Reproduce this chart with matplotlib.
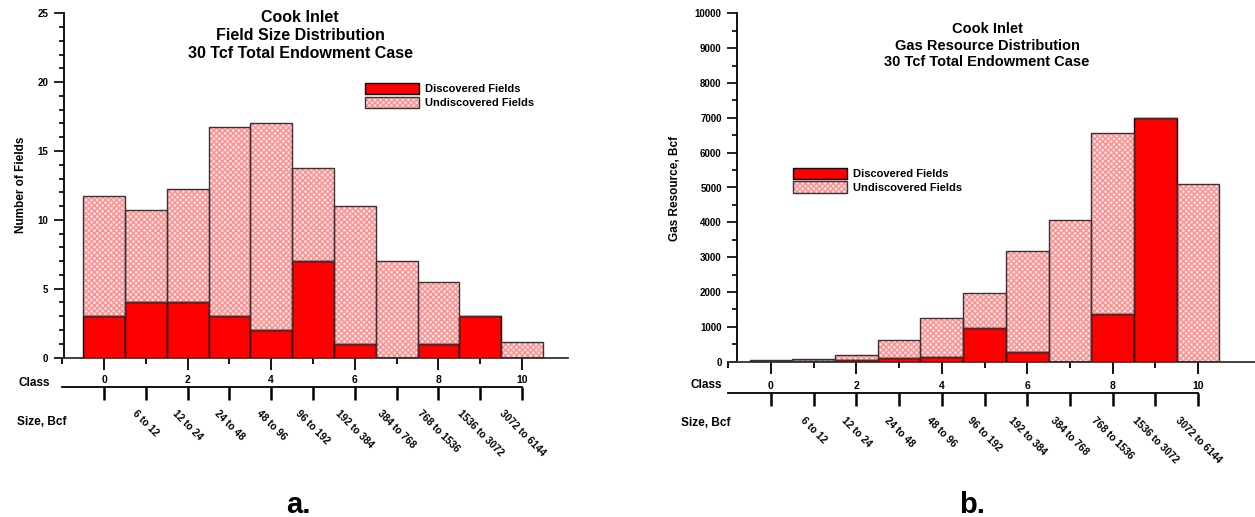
import numpy as np
import matplotlib
matplotlib.use('Agg')
import matplotlib.pyplot as plt
from matplotlib.patches import Patch
from matplotlib.ticker import MultipleLocator, FixedLocator

plt.rcParams['font.family'] = ['Liberation Sans', 'DejaVu Sans']
plt.rcParams['font.weight'] = 'bold'
plt.rcParams['hatch.linewidth'] = 1.0

classes = np.arange(11)
size_labels = ['6 to 12', '12 to 24', '24 to 48', '48 to 96', '96 to 192',
               '192 to 384', '384 to 768', '768 to 1536', '1536 to 3072', '3072 to 6144']

# panel a: number of fields per class
fields_discovered = [3, 4, 4, 3, 2, 7, 1, 0, 1, 3, 0]
fields_undiscovered = [8.75, 6.7, 8.25, 13.75, 15.05, 6.8, 10.0, 7.0, 4.5, 0.0, 1.1]

# panel b: gas resource per class, Bcf
gas_discovered = [25, 20, 50, 96, 144, 976, 287, 0, 1359, 7005, 0]
gas_undiscovered = [20, 45, 132, 516, 1100, 986, 2900, 4057, 5206, 0, 5091]

W, H = 1255, 517
fig = plt.figure(figsize=(W / 100, H / 100), dpi=100)

HATCH_FACE = '#ffe2e2'
HATCH_LINE = '#ff8f8f'


def fbox(x0, y0, x1, y1):
    # pixel box (from top-left) -> figure fraction rect
    return [x0 / W, 1 - y1 / H, (x1 - x0) / W, (y1 - y0) / H]


def ftext(x, y, s, **kw):
    fig.text(x / W, 1 - y / H, s, **kw)


def panel(disc, undisc, ymax, ymajor, yminor, x0, dx, yaxis_px, base_px, top_px,
          right_px, title, title_x, title_ys, title_fs, ylabel, ylabel_xy,
          legend_xy, class_y, class_xy, size_xy, size_off, letter, letter_x):
    ax = fig.add_axes(fbox(x0 - dx, top_px, right_px, base_px))
    ax.set_xlim(-1, (right_px - x0) / dx)
    ax.set_ylim(0, ymax)

    ax.bar(classes, disc, width=1, color='red', edgecolor='black', lw=1, zorder=3)
    ax.bar(classes, undisc, bottom=disc, width=1, color=HATCH_FACE,
           edgecolor=HATCH_LINE, lw=0, hatch='xxxxxx', zorder=2)
    ax.bar(classes, undisc, bottom=disc, width=1, fill=False,
           edgecolor='#333333', lw=1, zorder=3)

    for s in ['top', 'right']:
        ax.spines[s].set_visible(False)
    ax.spines['left'].set_position(('data', (yaxis_px - x0) / dx))
    ax.spines['left'].set_linewidth(1.3)
    ax.spines['bottom'].set_linewidth(1.3)
    ax.spines['bottom'].set_color('#333333')

    ax.yaxis.set_major_locator(MultipleLocator(ymajor))
    ax.yaxis.set_minor_locator(MultipleLocator(yminor))
    ax.tick_params(axis='y', which='major', length=7.5, width=1.2, labelsize=7, pad=3.5)
    ax.tick_params(axis='y', which='minor', length=3.5, width=1.2)

    ax.xaxis.set_major_locator(FixedLocator(range(0, 11, 2)))
    ax.xaxis.set_minor_locator(FixedLocator(range(-1, 11, 2)))
    ax.tick_params(axis='x', which='major', length=8.5, width=1.3, labelbottom=False)
    ax.tick_params(axis='x', which='minor', length=4.3, width=1.3)

    for line, y in zip(title, title_ys):
        ftext(title_x, y, line, ha='center', va='center', fontsize=title_fs)
    ftext(ylabel_xy[0], ylabel_xy[1], ylabel, rotation=90, ha='center', va='center',
          fontsize=8.5)

    h_disc = Patch(facecolor='red', edgecolor='black', lw=1)
    h_und = (Patch(facecolor=HATCH_FACE, edgecolor=HATCH_LINE, lw=0, hatch='xxxxxx'),
             Patch(fill=False, edgecolor='#333333', lw=1))
    ax.legend([h_disc, h_und], ['Discovered Fields', 'Undiscovered Fields'],
              loc='upper left', bbox_to_anchor=(legend_xy[0] / W, 1 - legend_xy[1] / H),
              bbox_transform=fig.transFigure, frameon=False, borderpad=0,
              borderaxespad=0, handlelength=4.9, handleheight=1.15,
              handletextpad=0.5, labelspacing=0.2, prop={'size': 8, 'weight': 'bold'})

    # class / size scale under the chart
    cax = fig.add_axes(fbox(x0 - dx, class_y - 0.02, x0 + 10 * dx, class_y))
    cax.set_xlim(-1, 10)
    cax.patch.set_visible(False)
    for s in ['top', 'right', 'left']:
        cax.spines[s].set_visible(False)
    cax.spines['bottom'].set_linewidth(1.3)
    cax.set_yticks([])
    cax.set_xticks(classes)
    cax.tick_params(axis='x', length=9, width=1.8, labelbottom=False)
    for k in classes[::2]:
        cax.annotate(str(k), (k, 0), xycoords=('data', 'axes fraction'),
                     xytext=(0, 1), textcoords='offset points',
                     ha='center', va='bottom', fontsize=7.5)
    for k, lbl in zip(classes[1:], size_labels):
        cax.annotate(lbl, (k, 0), xycoords=('data', 'axes fraction'),
                     xytext=(0, -size_off), textcoords='offset points',
                     ha='center', va='top', rotation=-45, fontsize=7.3)

    ftext(class_xy[0], class_xy[1], 'Class', ha='center', va='center', fontsize=8.5)
    ftext(size_xy[0], size_xy[1], 'Size, Bcf', ha='left', va='center', fontsize=8.5)
    ftext(letter_x, 513, letter, ha='center', va='baseline', fontsize=21)


panel(fields_discovered, fields_undiscovered, 25, 5, 1,
      x0=104, dx=41.8, yaxis_px=63.5, base_px=357.5, top_px=13.3, right_px=568,
      title=['Cook Inlet', 'Field Size Distribution', '30 Tcf Total Endowment Case'],
      title_x=300, title_ys=[18, 36, 53], title_fs=11.5,
      ylabel='Number of Fields', ylabel_xy=(21, 185),
      legend_xy=(365, 83), class_y=386.7, class_xy=(34, 383), size_xy=(17, 422),
      size_off=15.3, letter='a.', letter_x=298)

panel(gas_discovered, gas_undiscovered, 10000, 1000, 500,
      x0=771, dx=42.7, yaxis_px=737, base_px=361.7, top_px=13.3, right_px=1255,
      title=['Cook Inlet', 'Gas Resource Distribution', '30 Tcf Total Endowment Case'],
      title_x=987, title_ys=[29, 46, 62], title_fs=10.5,
      ylabel='Gas Resource, Bcf', ylabel_xy=(675, 188),
      legend_xy=(793, 168), class_y=392.7, class_xy=(706, 385), size_xy=(681, 423),
      size_off=16, letter='b.', letter_x=972)

fig.savefig('out.png', dpi=100)
